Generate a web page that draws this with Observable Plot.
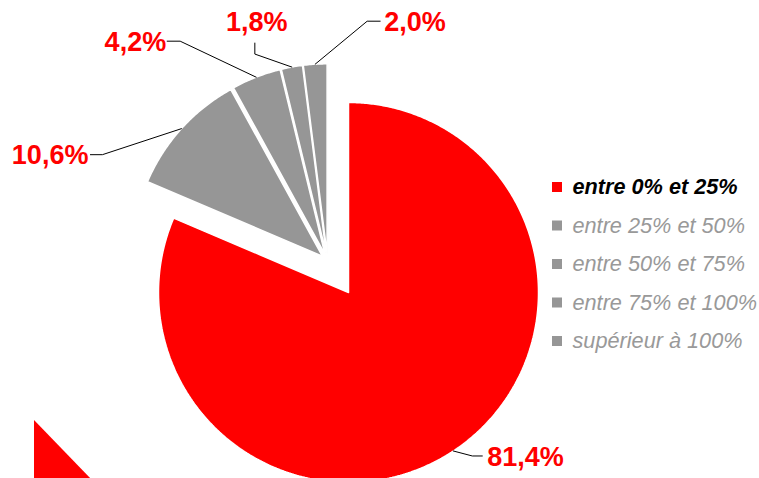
<!DOCTYPE html>
<html><head><meta charset="utf-8">
<script src="https://cdn.jsdelivr.net/npm/d3@7"></script>
<script src="https://cdn.jsdelivr.net/npm/@observablehq/plot@0.6"></script>
<style>
html,body{margin:0;padding:0;background:#fff;overflow:hidden;}
#chart{position:relative;width:759px;height:478px;}
#deco{position:absolute;left:34px;top:420px;width:58px;height:60px;background:#ff0000;clip-path:polygon(0 0,0 100%,100% 100%);}
</style></head><body><div id="chart"><div id="deco"></div></div>
<script>
// ---- data ----
const categories = ["entre 0% et 25%", "entre 25% et 50%", "entre 50% et 75%", "entre 75% et 100%", "supérieur à 100%"];
const shares = [81.4, 10.6, 4.2, 1.8, 2.0];
const sliceColors = ["#ff0000", "#969696", "#969696", "#969696", "#969696"];
const legendTextColors = ["#000000", "#999999", "#999999", "#999999", "#999999"];

// ---- layout ----
const W = 759, H = 478;
const cx = 348, cy = 292, R = 190;
const groupExplode = 38;         // grey group pulled out together
const sliceExplode = [0, 7, 7, 7, 7];
// leader layout per slice: elbow offset from arc anchor, end offset from elbow, text offset + anchor
const leaderLayout = [
  {ex: 19, ey: 5, tx: 10, ty: 0, dx: 5, dy: 1, anchor: "start"},
  {ex: -79, ey: 26, tx: -12, ty: 0, dx: -2, dy: 1, anchor: "end"},
  {ex: -76, ey: -36, tx: -13, ty: 0, dx: -1, dy: 1, anchor: "end"},
  {ex: -37, ey: -13, tx: 0, ty: -11, dx: 2, dy: -21, anchor: "middle"},
  {ex: 52, ey: -43, tx: 13, ty: 0, dx: 4, dy: 1, anchor: "start"}
];
const legendX = 552, legendTextX = 572, legendY0 = 187, legendStep = 38.5, markerSize = 10;

// ---- geometry from data ----
const arcs = d3.pie().sort(null).value(d => d)(shares);
const dir = a => [Math.sin(a), -Math.cos(a)];
const greyStart = arcs[1].startAngle, greyEnd = arcs[arcs.length - 1].endAngle;
const gDir = dir((greyStart + greyEnd) / 2);

const slicePts = [], leaderPts = [], labels = [];
arcs.forEach((a, i) => {
  const mid = (a.startAngle + a.endAngle) / 2;
  const md = dir(mid);
  const g = i === 0 ? 0 : groupExplode;
  const vx = cx + g * gDir[0] + sliceExplode[i] * md[0];
  const vy = cy + g * gDir[1] + sliceExplode[i] * md[1];
  const key = categories[i];
  slicePts.push({key, x: vx, y: vy, color: sliceColors[i]});
  const n = Math.max(4, Math.ceil((a.endAngle - a.startAngle) / (Math.PI / 360)));
  for (let k = 0; k <= n; k++) {
    const t = a.startAngle + (a.endAngle - a.startAngle) * k / n;
    const d = dir(t);
    slicePts.push({key, x: vx + R * d[0], y: vy + R * d[1], color: sliceColors[i]});
  }
  slicePts.push({key, x: vx, y: vy, color: sliceColors[i]});
  // leader
  const L = leaderLayout[i];
  const ax = vx + R * md[0], ay = vy + R * md[1];
  const elx = ax + L.ex, ely = ay + L.ey;
  const enx = elx + L.tx, eny = ely + L.ty;
  leaderPts.push({key, x: ax, y: ay}, {key, x: elx, y: ely}, {key, x: enx, y: eny});
  labels.push({x: enx + L.dx, y: eny + L.dy, anchor: L.anchor, text: d3.format(".1f")(shares[i]).replace(".", ",") + "%"});
});

const legend = categories.map((c, i) => ({
  label: c, i,
  y: legendY0 + i * legendStep,
  color: sliceColors[i],
  textColor: legendTextColors[i]
}));

const font = "'Liberation Sans', Arial, sans-serif";

const chart = Plot.plot({
  width: W, height: H, margin: 0,
  x: {domain: [0, W], range: [0, W], axis: null},
  y: {domain: [0, H], range: [0, H], axis: null},
  color: {type: "identity"},
  style: {fontFamily: font, background: "transparent"},
  marks: [
    Plot.line(slicePts, {x: "x", y: "y", z: "key", fill: "color", stroke: "white", strokeWidth: 1.5, strokeLinejoin: "miter", clip: true}),
    Plot.line(leaderPts, {x: "x", y: "y", z: "key", stroke: "black", strokeWidth: 1}),
    ...labels.map(l => Plot.text([l], {x: "x", y: "y", text: "text", textAnchor: l.anchor, fill: "#ff0000", fontSize: 27, fontWeight: "bold", fontFamily: font})),
    Plot.rect(legend, {x1: () => legendX, x2: () => legendX + markerSize, y1: d => d.y - markerSize / 2, y2: d => d.y + markerSize / 2, fill: "color"}),
    Plot.text(legend.filter(d => d.i === 0), {x: () => legendTextX, y: "y", text: "label", textAnchor: "start", fill: "textColor", fontSize: 21.7, fontStyle: "italic", fontWeight: "bold", fontFamily: font}),
    Plot.text(legend.filter(d => d.i !== 0), {x: () => legendTextX, y: "y", text: "label", textAnchor: "start", fill: "textColor", fontSize: 21.7, fontStyle: "italic", fontFamily: font})
  ]
});
chart.style.position = "absolute";
chart.style.left = "0px";
chart.style.top = "0px";
document.getElementById("chart").appendChild(chart);
</script>
</body></html>
